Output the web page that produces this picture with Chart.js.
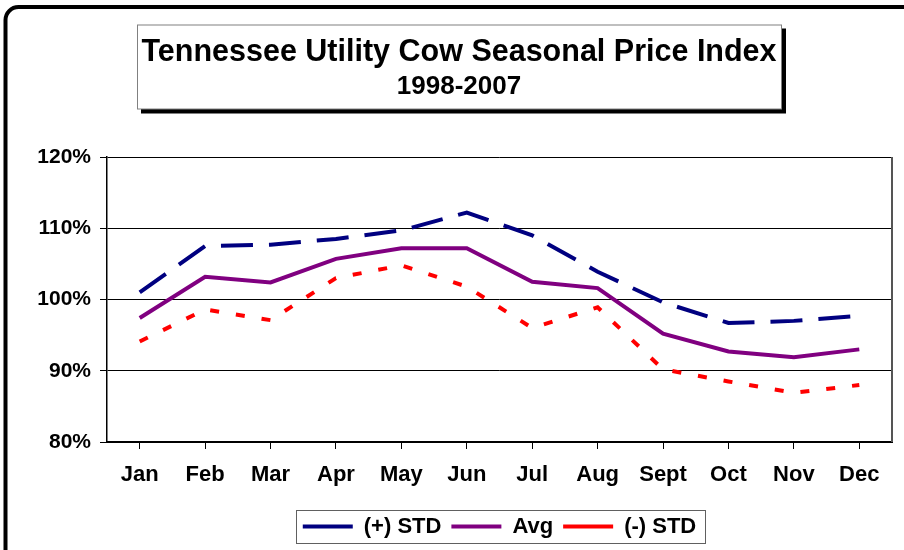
<!DOCTYPE html>
<html>
<head>
<meta charset="utf-8">
<title>Tennessee Utility Cow Seasonal Price Index</title>
<script src="https://cdn.jsdelivr.net/npm/chart.js@4.4.1/dist/chart.umd.min.js"></script>
<style>
  html, body { margin: 0; padding: 0; background: #fff; }
  .chart-wrap { position: relative; width: 904px; height: 550px; }
</style>
</head>
<body>
<div class="chart-wrap">
  <canvas id="indexChart"></canvas>
</div>
<script>
// ====== Data ======
const months = ["Jan", "Feb", "Mar", "Apr", "May", "Jun", "Jul", "Aug", "Sept", "Oct", "Nov", "Dec"];
const plusStd = [101.0, 107.5, 107.7, 108.5, 109.7, 112.2, 109.0, 103.9, 99.6, 96.7, 97.0, 97.7];
const avgIndex = [97.4, 103.2, 102.4, 105.7, 107.2, 107.2, 102.5, 101.6, 95.2, 92.7, 91.9, 93.0];
const minusStd = [94.1, 98.6, 97.1, 103.0, 104.8, 101.8, 96.0, 98.9, 90.2, 88.5, 86.9, 88.0];
const yTicks = [80, 90, 100, 110, 120];

Chart.defaults.font.family = "Arial, 'Liberation Sans', sans-serif";
Chart.defaults.font.weight = "bold";
Chart.defaults.color = "#000";

// ====== Frame, title box and legend box ======
const framePlugin = {
  id: "frames",
  beforeDraw(chart) {
    const ctx = chart.ctx;
    ctx.save();

    // outer rounded border
    ctx.strokeStyle = "#000";
    ctx.lineWidth = 4;
    ctx.beginPath();
    ctx.roundRect(5.5, 7, 940, 600, 13);
    ctx.stroke();

    // title box with drop shadow
    ctx.fillStyle = "#000";
    ctx.fillRect(141, 28.5, 645, 85);
    ctx.fillStyle = "#fff";
    ctx.fillRect(137.5, 25, 644, 84);
    ctx.strokeStyle = "#808080";
    ctx.lineWidth = 1;
    ctx.strokeRect(137.5, 25, 644, 84);

    // legend box
    const boxes = chart.legend.legendHitBoxes;
    if (boxes && boxes.length) {
      const first = boxes[0];
      const last = boxes[boxes.length - 1];
      const x0 = Math.round(first.left) - 6.5;
      const x1 = Math.round(last.left + last.width) + 9.5;
      const y0 = Math.round(first.top) - 5.5;
      const y1 = Math.round(first.top + first.height) + 5.5;
      ctx.strokeStyle = "#606060";
      ctx.strokeRect(x0, y0, x1 - x0, y1 - y0);
    }
    ctx.restore();
  },
  beforeDatasetsDraw(chart) {
    // right edge of the plot area
    const {ctx, chartArea} = chart;
    ctx.save();
    ctx.strokeStyle = "#555";
    ctx.lineWidth = 2;
    ctx.beginPath();
    ctx.moveTo(chartArea.right, chartArea.top);
    ctx.lineTo(chartArea.right, chartArea.bottom);
    ctx.stroke();
    ctx.restore();
  },
};

// ====== Chart ======
const indexCtx = document.getElementById("indexChart");
const indexChart = new Chart(indexCtx, {
  type: "line",
  data: {
    labels: months,
    datasets: [
      {
        label: "(+) STD",
        data: plusStd,
        borderColor: "#000080",
        backgroundColor: "#000080",
        borderWidth: 4,
        borderDash: [32, 16],
      },
      {
        label: "Avg",
        data: avgIndex,
        borderColor: "#800080",
        backgroundColor: "#800080",
        borderWidth: 4,
      },
      {
        label: "(-) STD",
        data: minusStd,
        borderColor: "#ff0000",
        backgroundColor: "#ff0000",
        borderWidth: 4,
        borderDash: [9, 17],
      },
    ],
  },
  options: {
    responsive: true,
    maintainAspectRatio: false,
    animation: false,
    layout: { padding: { top: 0, left: 26, right: 12, bottom: 2.5 } },
    elements: {
      point: { radius: 0, hoverRadius: 0 },
      line: { tension: 0, fill: false },
    },
    plugins: {
      title: {
        display: true,
        text: "Tennessee Utility Cow Seasonal Price Index",
        font: { size: 30.5, weight: "bold" },
        padding: { top: 34.3, bottom: 0 },
      },
      subtitle: {
        display: true,
        text: "1998-2007",
        color: "#000",
        font: { size: 26, weight: "bold" },
        padding: { top: 0.7, bottom: 54.2 },
      },
      legend: {
        display: true,
        position: "bottom",
        fullSize: false,
        labels: {
          usePointStyle: true,
          pointStyle: "line",
          pointStyleWidth: 50,
          padding: 10,
          font: { size: 22, weight: "bold" },
        },
      },
      tooltip: { enabled: false },
    },
    scales: {
      x: {
        offset: true,
        afterFit: (scale) => { scale.height = 63.5; },
        grid: {
          display: true,
          drawOnChartArea: false,
          drawTicks: true,
          tickLength: 7,
          color: "#000",
          lineWidth: 1,
        },
        border: { display: true, color: "#000", width: 2 },
        ticks: {
          padding: 13,
          maxRotation: 0,
          autoSkip: false,
          font: { size: 22, weight: "bold" },
        },
      },
      y: {
        min: yTicks[0],
        max: yTicks[yTicks.length - 1],
        afterFit: (scale) => { scale.width = 81; },
        afterBuildTicks: (scale) => {
          scale.ticks = yTicks.map((v) => ({ value: v }));
        },
        grid: {
          color: "#000",
          lineWidth: 1,
          drawTicks: true,
          tickLength: 7,
        },
        border: { display: true, color: "#000", width: 1.5 },
        ticks: {
          padding: 9,
          font: { size: 21, weight: "bold" },
          callback: (v) => v + "%",
        },
      },
    },
  },
  plugins: [framePlugin],
});
</script>
</body>
</html>
